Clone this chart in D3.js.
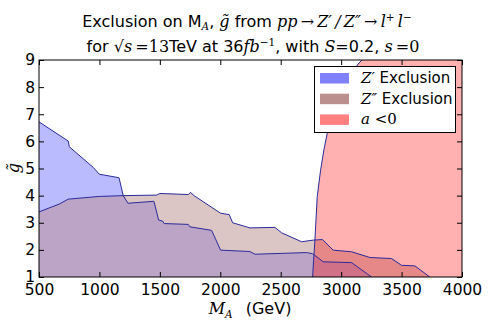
<!DOCTYPE html>
<html><head><meta charset="utf-8">
<script src="https://cdn.jsdelivr.net/npm/d3@7"></script>
<style>
body{margin:0;background:#fff;}
text{font-family:"DejaVu Sans",sans-serif;}
.m{font-family:"DejaVu Serif",serif;font-style:italic;}
</style></head><body>
<svg id="c" width="491" height="327"></svg>
<script>
// Z' exclusion upper boundary
const zpM = [500, 742, 751, 949, 999, 1162, 1197, 1236, 1451, 1490, 1523, 1536, 1735, 1749, 1928, 2003, 2245, 2287, 2714, 2764, 2852, 3086, 3252];
const zpG = [6.72, 6.01, 5.80, 5.04, 4.79, 4.66, 4.00, 3.72, 3.79, 3.10, 3.06, 2.97, 2.94, 2.85, 2.72, 1.99, 1.94, 1.84, 1.90, 1.86, 1.56, 1.53, 1.0];
// Z'' exclusion upper boundary
const zppM = [500, 668, 742, 999, 1197, 1473, 1500, 1735, 1755, 1776, 2003, 2074, 2102, 2245, 2452, 2507, 2673, 2769, 2846, 2934, 3086, 3238, 3417, 3500, 3610, 3734];
const zppG = [3.40, 3.69, 3.87, 3.97, 4.00, 4.02, 4.08, 4.04, 4.12, 4.02, 3.35, 3.30, 3.00, 2.81, 2.83, 2.63, 2.30, 2.36, 2.38, 1.99, 1.93, 1.72, 1.68, 1.43, 1.41, 1.0];
// a<0 region left boundary
const redM = [2764, 2772, 2783, 2802, 2830, 2857, 2885, 2950, 3030, 3100, 3140, 3172];
const redG = [1.0, 1.6, 2.36, 3.96, 4.94, 5.68, 6.30, 7.1, 7.85, 8.6, 8.85, 9.0];
const xTicks = [500, 1000, 1500, 2000, 2500, 3000, 3500, 4000];
const yTicks = [1, 2, 3, 4, 5, 6, 7, 8, 9];

const svg = d3.select("#c");
const L = 39, R = 462, T = 60, B = 277;
const x = d3.scaleLinear().domain([500, 4000]).range([L, R]);
const y = d3.scaleLinear().domain([1, 9]).range([B, T]);

svg.append("defs").append("clipPath").attr("id", "clip")
  .append("rect").attr("x", L).attr("y", T).attr("width", R - L).attr("height", B - T);
const g = svg.append("g").attr("clip-path", "url(#clip)");

const edge = "#2a2a9c";
function region(M, G) {
  const pts = M.map((m, i) => [x(m), y(G[i])]);
  return [[x(M[0]), y(1)], ...pts, [x(M[M.length - 1]), y(1)]];
}
const line = d3.line();

g.append("path").attr("d", line(region(zpM, zpG)) + "Z").attr("fill", "rgb(0,0,255)").attr("fill-opacity", 0.27);
g.append("path").attr("d", line(region(zppM, zppG)) + "Z").attr("fill", "rgb(188,143,143)").attr("fill-opacity", 0.52);
const redPts = redM.map((m, i) => [x(m), y(redG[i])]);
const redPoly = [...redPts, [x(4000), y(9)], [x(4000), y(1)]];
g.append("path").attr("d", line(redPoly) + "Z").attr("fill", "rgb(255,0,0)").attr("fill-opacity", 0.31);

g.append("path").attr("d", line(zpM.map((m, i) => [x(m), y(zpG[i])]))).attr("fill", "none").attr("stroke", edge).attr("stroke-width", 1);
g.append("path").attr("d", line(zppM.map((m, i) => [x(m), y(zppG[i])]))).attr("fill", "none").attr("stroke", edge).attr("stroke-width", 1);
g.append("path").attr("d", line(redPts)).attr("fill", "none").attr("stroke", edge).attr("stroke-width", 1);

svg.append("rect").attr("x", L).attr("y", T).attr("width", R - L).attr("height", B - T)
  .attr("fill", "none").attr("stroke", "#000").attr("stroke-width", 1);

const fs = 15.5;
const xb = svg.append("g").attr("transform", `translate(0,${B})`)
  .call(d3.axisBottom(x).tickValues(xTicks).tickSize(-5).tickPadding(7).tickFormat(d3.format("d")));
const xt = svg.append("g").attr("transform", `translate(0,${T})`)
  .call(d3.axisTop(x).tickValues(xTicks).tickSize(-5).tickFormat(""));
const yl = svg.append("g").attr("transform", `translate(${L},0)`)
  .call(d3.axisLeft(y).tickValues(yTicks).tickSize(-5).tickPadding(4).tickFormat(d3.format("d")));
const yr = svg.append("g").attr("transform", `translate(${R},0)`)
  .call(d3.axisRight(y).tickValues(yTicks).tickSize(-5).tickFormat(""));
[xb, xt, yl, yr].forEach(a => {
  a.select(".domain").remove();
  a.selectAll("text").attr("font-family", "DejaVu Sans").attr("font-size", fs).attr("fill", "#000");
  a.selectAll("line").attr("stroke", "#000");
});

// title
const t1 = svg.append("text").attr("x", 247).attr("y", 27).attr("text-anchor", "middle").attr("font-size", 16);
t1.append("tspan").text("Exclusion on M");
t1.append("tspan").attr("class", "m").attr("font-size", 10.5).attr("dy", 3).text("A");
t1.append("tspan").attr("dy", -3).text(", ");
t1.append("tspan").attr("class", "m").text("g\u0303");
t1.append("tspan").text(" from ");
t1.append("tspan").attr("class", "m").text("pp\u2009\u2192\u2009Z\u2032\u2009/\u2009Z\u2033\u2009\u2192\u2009l");
t1.append("tspan").attr("class", "m").attr("font-size", 10.5).attr("dy", -6).text("+");
t1.append("tspan").attr("class", "m").attr("dy", 6).text("\u2009l");
t1.append("tspan").attr("class", "m").attr("font-size", 10.5).attr("dy", -6).text("\u2212");

const t2 = svg.append("text").attr("x", 253).attr("y", 52).attr("text-anchor", "middle").attr("font-size", 16);
t2.append("tspan").text("for ");
t2.append("tspan").attr("class", "m").text("\u221As");
t2.append("tspan").attr("font-family", "DejaVu Serif").text("\u2009=13");
t2.append("tspan").text("TeV at 36");
t2.append("tspan").attr("class", "m").text("fb");
t2.append("tspan").attr("font-family", "DejaVu Serif").attr("font-size", 10.5).attr("dy", -6).text("\u22121");
t2.append("tspan").attr("dy", 6).text(", with ");
t2.append("tspan").attr("class", "m").text("S");
t2.append("tspan").attr("font-family", "DejaVu Serif").text("=");
t2.append("tspan").text("0.2, ");
t2.append("tspan").attr("class", "m").text("s");
t2.append("tspan").attr("font-family", "DejaVu Serif").text("\u2009=0");

// x label
const xl = svg.append("text").attr("x", 250).attr("y", 314).attr("text-anchor", "middle").attr("font-size", 16);
xl.append("tspan").attr("class", "m").text("M");
xl.append("tspan").attr("class", "m").attr("font-size", 10.5).attr("dy", 4).text("A");
xl.append("tspan").attr("dy", -4).text("\u2002 (GeV)");

// y label
svg.append("text").attr("class", "m").attr("transform", "translate(19,168) rotate(-90)")
  .attr("text-anchor", "middle").attr("font-size", 16).text("g\u0303");

// legend
const lg = svg.append("g");
lg.append("rect").attr("x", 314.5).attr("y", 66.5).attr("width", 141).attr("height", 66)
  .attr("fill", "#fff").attr("stroke", "#000").attr("stroke-width", 1);
const items = [
  {c: "rgb(128,128,255)", parts: [["m", "Z\u2032"], ["", " Exclusion"]]},
  {c: "rgb(188,143,143)", parts: [["m", "Z\u2033"], ["", " Exclusion"]]},
  {c: "rgb(255,128,128)", parts: [["m", "a"], ["s", " <"], ["s", "0"]]}
];
items.forEach((it, i) => {
  const yy = 73 + i * 20.7;
  lg.append("rect").attr("x", 320).attr("y", yy).attr("width", 29).attr("height", 10.5).attr("fill", it.c);
  const tx = lg.append("text").attr("x", 361).attr("y", yy + 10).attr("font-size", 15);
  it.parts.forEach(p => {
    const ts = tx.append("tspan").text(p[1]);
    if (p[0] === "m") ts.attr("class", "m");
    if (p[0] === "s") ts.attr("font-family", "DejaVu Serif");
  });
});
</script>
</body></html>
